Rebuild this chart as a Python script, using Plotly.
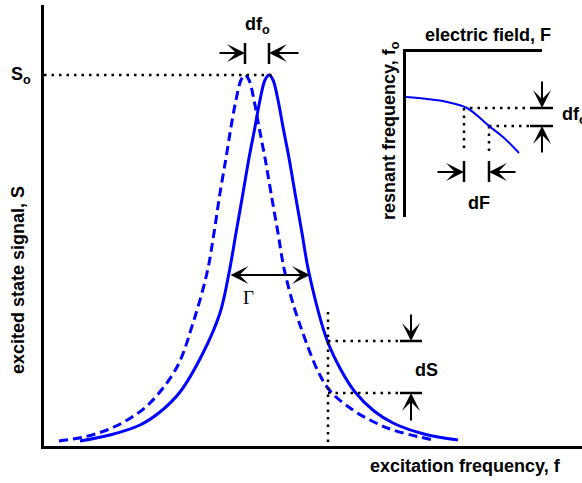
import plotly.graph_objects as go

# ---- data (main panel: excitation frequency vs. excited state signal) ----
solid_f = [36, 66, 96, 116, 136, 159, 176, 185, 192, 199, 205, 211, 216, 221, 225, 229, 234, 239, 245, 251, 258, 265, 283, 297, 311, 330, 349, 380, 414]
solid_s = [5, 11, 21, 34, 54, 93, 133, 173, 213, 253, 288, 319, 346, 366, 371, 366, 346, 319, 288, 253, 213, 173, 106, 76, 54, 35, 23, 12, 6]
dashed_f = [15, 40, 63, 85, 106, 133, 149, 163, 170, 176, 182, 187, 192, 197, 201, 205, 210, 215, 221, 227, 234, 241, 256, 283, 309, 330, 349, 389]
dashed_s = [5, 9, 16, 27, 43, 79, 123, 173, 213, 253, 288, 319, 346, 366, 371, 366, 346, 319, 288, 253, 213, 173, 121, 59, 36, 24, 16, 6]

# ---- data (inset: electric field vs. resonant frequency) ----
field_F = [0, 21, 41, 61, 83, 97, 113]
res_f0 = [120, 118, 115, 109, 91, 80, 64]

# ---- guide geometry (main-axis units) ----
S0_level = 371
peak_dashed, peak_solid = 201, 225
gamma_left, gamma_right, gamma_level = 185, 266, 171
dS_f, dS_hi, dS_lo = 284, 105, 53
inset_F1, inset_F2 = 420, 445
inset_f1, inset_f2 = 338, 320

XW, YH = 538, 441  # main axis spans (one unit = one pixel)

fig = go.Figure()

BLUE = "#0000FF"
fig.add_trace(go.Scatter(x=solid_f, y=solid_s, mode="lines",
                         line=dict(color=BLUE, width=3, shape="spline", smoothing=1),
                         hoverinfo="skip", showlegend=False))
fig.add_trace(go.Scatter(x=dashed_f, y=dashed_s, mode="lines",
                         line=dict(color=BLUE, width=3, dash="9px,5px", shape="spline", smoothing=1),
                         hoverinfo="skip", showlegend=False))
fig.add_trace(go.Scatter(x=field_F, y=res_f0, mode="lines", line=dict(color=BLUE, width=2, shape="spline"),
                         xaxis="x2", yaxis="y2", hoverinfo="skip", showlegend=False))

# dotted guide lines
dx, dy = [], []
def seg(x0, y0, x1, y1, xs, ys):
    xs += [x0, x1, None]
    ys += [y0, y1, None]

seg(0, S0_level, 231, S0_level, dx, dy)
seg(dS_f, 134, dS_f, 4, dx, dy)
seg(dS_f, dS_hi, 356, dS_hi, dx, dy)
seg(dS_f, dS_lo, 356, dS_lo, dx, dy)
seg(426, inset_f1, 486, inset_f1, dx, dy)
seg(inset_F2, inset_f2, 486, inset_f2, dx, dy)
seg(inset_F1, inset_f1, inset_F1, 293, dx, dy)
seg(inset_F2, inset_f2, inset_F2, 293, dx, dy)
fig.add_trace(go.Scatter(x=dx, y=dy, mode="lines", line=dict(color="black", width=2.5, dash="2.5px,5px"),
                         hoverinfo="skip", showlegend=False))

# solid bars
bx, by = [], []
seg(peak_dashed, 403, peak_dashed, 382, bx, by)
seg(peak_solid, 403, peak_solid, 382, bx, by)
seg(356, dS_hi, 378, dS_hi, bx, by)
seg(356, dS_lo, 378, dS_lo, bx, by)
seg(486, inset_f1, 509, inset_f1, bx, by)
seg(486, inset_f2, 509, inset_f2, bx, by)
seg(inset_F1, 285, inset_F1, 264, bx, by)
seg(inset_F2, 285, inset_F2, 264, bx, by)
fig.add_trace(go.Scatter(x=bx, y=by, mode="lines", line=dict(color="black", width=2.5),
                         hoverinfo="skip", showlegend=False))

ann = []
def arrow(hx, hy, tx, ty, side="end"):
    ann.append(dict(x=hx, y=hy, ax=tx, ay=ty, xref="x", yref="y", axref="x", ayref="y",
                    text="", showarrow=True, arrowhead=3, startarrowhead=3, arrowside=side,
                    arrowwidth=2, arrowsize=1.5, startarrowsize=1.5, arrowcolor="black",
                    standoff=0, startstandoff=0))

arrow(peak_dashed, 393, 174, 393)
arrow(peak_solid, 393, 256, 393)
arrow(gamma_right, gamma_level, gamma_left, gamma_level, side="end+start")
arrow(367, dS_hi, 367, 133)
arrow(367, dS_lo, 367, 24)
arrow(498, inset_f1, 498, 366)
arrow(498, inset_f2, 498, 292)
arrow(inset_F1, 274, 392, 274)
arrow(inset_F2, 274, 473, 274)

BOLD = dict(family="Liberation Sans, Arial, sans-serif", size=18, color="black", weight="bold")
def label(x, y, t, xanchor="center", angle=0, font=BOLD, paper=False):
    ann.append(dict(x=x / XW if paper else x, y=y / YH if paper else y,
                    xref="paper" if paper else "x", yref="paper" if paper else "y",
                    text=t, showarrow=False, xanchor=xanchor,
                    yanchor="middle", textangle=angle, font=font))

label(213, 421, "df<sub>o</sub>")
label(-11, S0_level, "S<sub>o</sub>", xanchor="right", paper=True)
label(204, 149, "Γ", font=dict(family="Liberation Serif, Times New Roman, serif", size=19, color="black"))
label(382, 76, "dS")
label(444, 411, "electric field, F")
label(346, 315, "resnant frequency, f<sub>o</sub>", angle=-90)
label(516, 331, "df<sub>o</sub>", xanchor="left")
label(435, 243, "dF")
label(-26, 166, "excited state signal, S", angle=-90, paper=True)
label(421, -20, "excitation frequency, f", paper=True)

fig.update_layout(
    width=582, height=483,
    margin=dict(l=44, r=0, t=5, b=37),
    paper_bgcolor="white", plot_bgcolor="rgba(0,0,0,0)",
    annotations=ann,
    xaxis=dict(range=[0, XW], showline=True, linecolor="black", linewidth=3, showgrid=False,
               zeroline=False, showticklabels=False, ticks="", fixedrange=True),
    yaxis=dict(range=[0, YH], showline=True, linecolor="black", linewidth=3, showgrid=False,
               zeroline=False, showticklabels=False, ticks="", fixedrange=True),
    xaxis2=dict(domain=[362 / 538, 498 / 538], anchor="y2", side="top", range=[0, 136],
                showline=True, linecolor="black", linewidth=2.5, showgrid=False, zeroline=False,
                showticklabels=False, ticks="", fixedrange=True),
    yaxis2=dict(domain=[229 / 441, 394 / 441], anchor="x2", range=[0, 165],
                showline=True, linecolor="black", linewidth=2.5, showgrid=False, zeroline=False,
                showticklabels=False, ticks="", fixedrange=True),
)

fig.write_html("out.html", config={"displayModeBar": False},
               post_script="document.body.style.margin='0px';")
